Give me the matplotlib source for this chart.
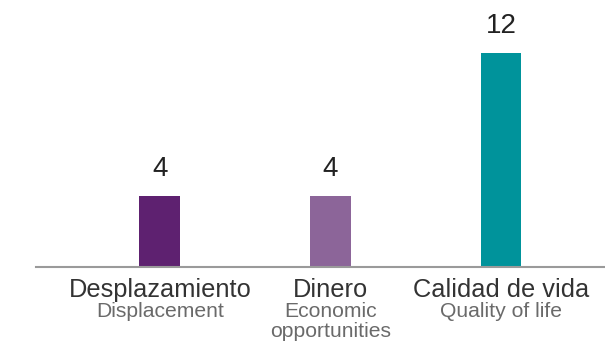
import matplotlib
matplotlib.use("Agg")
import matplotlib.pyplot as plt

categories_es = ["Desplazamiento", "Dinero", "Calidad de vida"]
categories_en = [["Displacement"], ["Economic", "opportunities"], ["Quality of life"]]
values = [4, 4, 12]
bar_colors = ["#5e2170", "#8c6599", "#00939b"]

plt.rcParams["font.family"] = ["Liberation Sans", "DejaVu Sans"]

fig = plt.figure(figsize=(6.05, 3.45), dpi=100)
ax = fig.add_axes([0, 0, 1, 1])
ax.set_xlim(-0.938, 2.610)
ax.set_ylim(-4.38, 15.0)
ax.axis("off")

x = list(range(len(values)))
ax.bar(x, values, width=0.24, color=bar_colors, zorder=2)
ax.axhline(0, xmin=36 / 605, xmax=1, color="#9a9a9a", linewidth=1.5, zorder=3)

for xi, v, es, en_lines in zip(x, values, categories_es, categories_en):
    ax.annotate(str(v), (xi, v), xytext=(0, 14.5), textcoords="offset points",
                ha="center", va="baseline", fontsize=20, color="#222222")
    ax.annotate(es, (xi, 0), xytext=(0, -21.4), textcoords="offset points",
                ha="center", va="baseline", fontsize=18.3, color="#333333")
    for k, line in enumerate(en_lines):
        ax.annotate(line, (xi, 0), xytext=(0, -36.2 - 14.4 * k),
                    textcoords="offset points", ha="center", va="baseline",
                    fontsize=15.2, color="#6a6a6a")

fig.savefig("out.png", dpi=100)
